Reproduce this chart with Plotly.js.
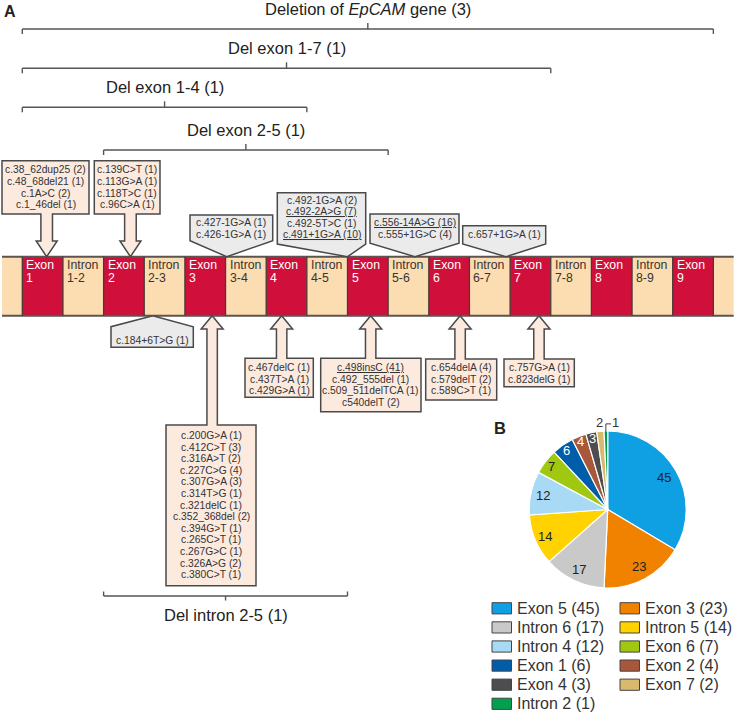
<!DOCTYPE html>
<html><head><meta charset="utf-8">
<script src="https://cdn.plot.ly/plotly-3.0.1.min.js"></script>
<style>html,body{margin:0;padding:0;background:#fff}#chart{width:735px;height:716px}</style>
</head><body><div id="chart"></div>
<script>
// ================= DATA =================
const segmentNames = ['Exon 1','Intron 1-2','Exon 2','Intron 2-3','Exon 3','Intron 3-4','Exon 4','Intron 4-5','Exon 5','Intron 5-6','Exon 6','Intron 6-7','Exon 7','Intron 7-8','Exon 8','Intron 8-9','Exon 9'];
const segmentTypes = ['exon','intron','exon','intron','exon','intron','exon','intron','exon','intron','exon','intron','exon','intron','exon','intron','exon'];

const deletionLabels = ['Deletion of <i>EpCAM</i> gene (3)','Del exon 1-7 (1)','Del exon 1-4 (1)','Del exon 2-5 (1)','Del intron 2-5 (1)'];
const deletionStart = [0, 0, 0, 2, 2];   // segment boundary index
const deletionEnd   = [17, 13, 7, 9, 8];

const exon1Variants = ['c.38_62dup25','c.48_68del21','c.1A>C','c.1_46del'];
const exon1Counts   = [2, 1, 2, 1];
const exon2Variants = ['c.139C>T','c.113G>A','c.118T>C','c.96C>A'];
const exon2Counts   = [1, 1, 1, 1];
const intron3Variants = ['c.427-1G>A','c.426-1G>A'];
const intron3Counts   = [1, 1];
const intron4Variants = ['c.492-1G>A','c.492-2A>G','c.492-5T>C','c.491+1G>A'];
const intron4Counts   = [2, 7, 1, 10];
const intron4Recurrent = [false, true, false, true];
const intron5Variants = ['c.556-14A>G','c.555+1G>C'];
const intron5Counts   = [16, 4];
const intron5Recurrent = [true, false];
const intron6Variants = ['c.657+1G>A'];
const intron6Counts   = [1];
const intron2Variants = ['c.184+6T>G'];
const intron2Counts   = [1];
const exon3Variants = ['c.200G>A','c.412C>T','c.316A>T','c.227C>G','c.307G>A','c.314T>G','c.321delC','c.352_368del','c.394G>T','c.265C>T','c.267G>C','c.326A>G','c.380C>T'];
const exon3Counts   = [1, 3, 2, 4, 3, 1, 1, 2, 1, 1, 1, 2, 1];
const exon4Variants = ['c.467delC','c.437T>A','c.429G>A'];
const exon4Counts   = [1, 1, 1];
const exon5Variants = ['c.498insC','c.492_555del','c.509_511delTCA','c540delT'];
const exon5Counts   = [41, 1, 1, 2];
const exon5Recurrent = [true, false, false, false];
const exon6Variants = ['c.654delA','c.579delT','c.589C>T'];
const exon6Counts   = [4, 2, 1];
const exon7Variants = ['c.757G>A','c.823delG'];
const exon7Counts   = [1, 1];

// target positions on the gene (segment units)
const calloutTargets = [0.60, 2.66, 5.03, 8.0, 9.66, 11.9, 3.21, 4.67, 6.38, 8.57, 10.77, 12.71];

const pieLabels = ['Exon 5','Exon 3','Intron 6','Intron 5','Intron 4','Exon 6','Exon 1','Exon 2','Exon 4','Exon 7','Intron 2'];
const pieValues = [45, 23, 17, 14, 12, 7, 6, 4, 3, 2, 1];

// ================= STYLE / LAYOUT =================
const pieColors = ['#0ea0e2','#f08200','#c9c9c9','#ffd200','#a8daf5','#a0c810','#005daa','#a9573a','#4d4d4f','#d9b96e','#00a04e'];
const pieTextColors = ['#222','#222','#222','#222','#222','#222','#fff','#fff','#fff','#333','#333'];
const pieLabelRadius = [0.83, 0.83, 0.84, 0.87, 0.84, 0.9, 0.91, 0.93, 0.92, 1.11, 1.11];
const pieLabelShift = [0, 0, 0, 0, 0, 0, 0, 0, 0, 0, 9.5];
const FONT = 'Liberation Sans, Arial, Helvetica, sans-serif';
const X0 = 22.3, SEG = 40.65;           // px of boundary 0, px per segment
const px2u = p => (p - X0) / SEG;
const u2px = u => X0 + u * SEG;
const BAR_TOP = 256.7, BAR_BOT = 315.7;
const EXON_COLOR = '#d0103a', INTRON_COLOR = '#fcddb2';
const BOX_FILL = '#fdeadf', GRAY_FILL = '#ebebeb', EDGE = '#4a4a4a';
const LINE_H = 11.6, BOX_FONT = 10.3;

const groups = [
  {v: exon1Variants,   c: exon1Counts,   kind:'arrowDown',  box:[2, 160.7, 89, 214],     ty:187.3},
  {v: exon2Variants,   c: exon2Counts,   kind:'arrowDown',  box:[94.3, 160.7, 160, 214], ty:187.3},
  {v: intron3Variants, c: intron3Counts, kind:'calloutDown',box:[190, 215, 272.7, 240.7], ty:228.5},
  {v: intron4Variants, c: intron4Counts, u: intron4Recurrent, kind:'calloutDown',box:[277.3, 192.7, 365.7, 244], ty:217.4},
  {v: intron5Variants, c: intron5Counts, u: intron5Recurrent, kind:'calloutDown',box:[370, 214, 459, 243.3], ty:228.5},
  {v: intron6Variants, c: intron6Counts, kind:'calloutDown',box:[462.7, 225.7, 545.7, 244], ty:234.3},
  {v: intron2Variants, c: intron2Counts, kind:'calloutUp',  box:[111, 326.7, 193.3, 347.3], ty:340.5},
  {v: exon3Variants,   c: exon3Counts,   kind:'arrowUp',    box:[166, 425, 256, 585.7],   ty:505},
  {v: exon4Variants,   c: exon4Counts,   kind:'arrowUp',    box:[245, 358.3, 313.3, 397.3], ty:379},
  {v: exon5Variants,   c: exon5Counts,   u: exon5Recurrent, kind:'arrowUp', box:[320.7, 358.3, 421, 411.7], ty:384.8},
  {v: exon6Variants,   c: exon6Counts,   kind:'arrowUp',    box:[425.7, 359, 496.7, 400], ty:379},
  {v: exon7Variants,   c: exon7Counts,   kind:'arrowUp',    box:[504, 359, 574.3, 386.7], ty:373.2}
];
const deletionLineY = [29, 68.3, 107.3, 150, 596];
const deletionBelow = [false, false, false, false, true];

const shapes = [];
const annotations = [];
const esc = s => s.replace(/>/g, '&gt;');
const pathOf = pts => 'M ' + pts.map(p => px2u(p[0]) + ',' + p[1]).join(' L ') + ' Z';

// gene bar outlines
shapes.push({type:'line', xref:'x', yref:'y', x0:-0.5, x1:17.5, y0:BAR_TOP, y1:BAR_TOP, line:{color:'#5b5450', width:2}});
shapes.push({type:'line', xref:'x', yref:'y', x0:-0.5, x1:17.5, y0:BAR_BOT, y1:BAR_BOT, line:{color:'#5b5450', width:2}});
for (let i = 0; i <= segmentNames.length; i++) {
  shapes.push({type:'line', xref:'x', yref:'y', x0:i, x1:i, y0:BAR_TOP, y1:BAR_BOT, line:{color:'#4a3a35', width:1.3}});
}
segmentNames.forEach((n, i) => {
  const parts = n.split(' ');
  const col = segmentTypes[i] === 'exon' ? '#fff' : '#3a3330';
  parts.forEach((p, k) => annotations.push({x: i + 2 / SEG, y: 265 + k * 13.3, xref:'x', yref:'y', text: p, showarrow:false,
    xanchor:'left', yanchor:'middle', font:{family:FONT, size:12.3, color:col}}));
});

// deletion brackets
deletionLabels.forEach((lab, i) => {
  const a = deletionStart[i], b = deletionEnd[i], y = deletionLineY[i], m = (a + b) / 2;
  const below = deletionBelow[i];
  const endTick = below ? -4.5 : 5, midTick = below ? 4.5 : -6;
  const ln = {color:'#555', width:1.4};
  shapes.push({type:'line', xref:'x', yref:'y', x0:a, x1:b, y0:y, y1:y, line:ln});
  shapes.push({type:'line', xref:'x', yref:'y', x0:a, x1:a, y0:y, y1:y + endTick, line:ln});
  shapes.push({type:'line', xref:'x', yref:'y', x0:b, x1:b, y0:y, y1:y + endTick, line:ln});
  shapes.push({type:'line', xref:'x', yref:'y', x0:m, x1:m, y0:y, y1:y + midTick, line:ln});
  annotations.push({x:m, y: below ? y + 19 : y - 20.5, xref:'x', yref:'y', text: lab, showarrow:false,
    xanchor:'center', yanchor:'middle', font:{family:FONT, size:16.5, color:'#222'}});
});

// callouts
groups.forEach((g, gi) => {
  const [x0, y0, x1, y1] = g.box;
  const tx = u2px(calloutTargets[gi]);
  let pts, fill = BOX_FILL;
  if (g.kind === 'arrowDown') {
    const sw = 5.8, hw = 10.5, headTop = 241;
    pts = [[x0,y0],[x1,y0],[x1,y1],[tx+sw,y1],[tx+sw,headTop],[tx+hw,headTop],[tx,BAR_TOP],[tx-hw,headTop],[tx-sw,headTop],[tx-sw,y1],[x0,y1]];
  } else if (g.kind === 'arrowUp') {
    const sw = 5.2, hw = 11, headBot = 329;
    pts = [[x0,y0],[tx-sw,y0],[tx-sw,headBot],[tx-hw,headBot],[tx,BAR_BOT],[tx+hw,headBot],[tx+sw,headBot],[tx+sw,y0],[x1,y0],[x1,y1],[x0,y1]];
  } else if (g.kind === 'calloutDown') {
    fill = GRAY_FILL;
    pts = [[x0,y0],[x1,y0],[x1,y1],[tx,BAR_TOP],[x0,y1]];
  } else {
    fill = GRAY_FILL;
    pts = [[x0,y1],[x0,y0],[tx,BAR_BOT],[x1,y0],[x1,y1]];
  }
  shapes.push({type:'path', xref:'x', yref:'y', path: pathOf(pts), fillcolor: fill, line:{color:EDGE, width:1.5}, layer:'above'});
  const n = g.v.length, cx = (x0 + x1) / 2;
  g.v.forEach((v, k) => {
    let t = esc(v) + ' (' + g.c[k] + ')';
    if (g.u && g.u[k]) t = '<u>' + t + '</u>';
    annotations.push({x: px2u(cx), y: g.ty + (k - (n - 1) / 2) * LINE_H, xref:'x', yref:'y', text:t, showarrow:false,
      xanchor:'center', yanchor:'middle', font:{family:FONT, size:BOX_FONT, color:'#333'}});
  });
});

// panel letters
annotations.push({x:px2u(10), y:11, xref:'x', yref:'y', text:'<b>A</b>', showarrow:false, font:{family:FONT, size:16, color:'#222'}});
annotations.push({x:px2u(500), y:427.5, xref:'x', yref:'y', text:'<b>B</b>', showarrow:false, font:{family:FONT, size:16.5, color:'#222'}});

// pie geometry
const PIE_CX = 607.7, PIE_CY = 509.5, PIE_R = 78.5;
const pieTotal = pieValues.reduce((a, b) => a + b, 0);
let cum = 0;
pieValues.forEach((v, i) => {
  const th = 2 * Math.PI * (cum + v / 2) / pieTotal;
  cum += v;
  const r = PIE_R * pieLabelRadius[i];
  const lx = PIE_CX + r * Math.sin(th) + pieLabelShift[i];
  const ly = PIE_CY - r * Math.cos(th);
  annotations.push({x:px2u(lx), y:ly, xref:'x', yref:'y', text:String(v), showarrow:false,
    xanchor:'center', yanchor:'middle', font:{family:FONT, size:13, color:pieTextColors[i]}});
  if (pieLabelShift[i] !== 0) {
    const ex = PIE_CX + PIE_R * Math.sin(th), ey = PIE_CY - PIE_R * Math.cos(th);
    shapes.push({type:'path', xref:'x', yref:'y',
      path:'M ' + px2u(ex) + ',' + (ey + 1) + ' L ' + px2u(ex) + ',' + (ly + 1.5) + ' L ' + px2u(lx - 4) + ',' + (ly + 1.5),
      line:{color:'#444', width:1}});
  }
});

// manual legend (2 columns)
pieLabels.forEach((lab, i) => {
  const col = i % 2, row = Math.floor(i / 2);
  const sx0 = col === 0 ? 492 : 620, sx1 = sx0 + 19.5;
  const yc = 608.3 + row * 19.1;
  shapes.push({type:'rect', xref:'x', yref:'y', x0:px2u(sx0), x1:px2u(sx1), y0:yc - 5.6, y1:yc + 5.6,
    fillcolor:pieColors[i], line:{color:'#444', width:1}});
  annotations.push({x:px2u(sx1 + 3.5), y:yc, xref:'x', yref:'y', text: lab + ' (' + pieValues[i] + ')', showarrow:false,
    xanchor:'left', yanchor:'middle', font:{family:FONT, size:16, color:'#333'}});
});

// ================= TRACES =================
const barBase = [-0.5].concat(segmentNames.map((_, i) => i)).concat([segmentNames.length]);
const barLen  = [0.5].concat(segmentNames.map(() => 1)).concat([0.5]);
const barCol  = [INTRON_COLOR].concat(segmentTypes.map(t => t === 'exon' ? EXON_COLOR : INTRON_COLOR)).concat([INTRON_COLOR]);
const geneTrace = {
  type:'bar', orientation:'h', base: barBase, x: barLen, y: barBase.map(() => (BAR_TOP + BAR_BOT) / 2),
  width: BAR_BOT - BAR_TOP, marker:{color: barCol, line:{width:0}}, hoverinfo:'skip', showlegend:false
};
const pieTrace = {
  type:'pie', labels: pieLabels, values: pieValues, sort:false, direction:'clockwise', rotation:0,
  textinfo:'none',
  marker:{colors: pieColors, line:{color:'#ffffff', width:1.2}},
  domain:{x:[(PIE_CX - PIE_R) / 735, (PIE_CX + PIE_R) / 735], y:[1 - (PIE_CY + PIE_R) / 716, 1 - (PIE_CY - PIE_R) / 716]},
  showlegend:false, hoverinfo:'skip'
};

const layout = {
  width:735, height:716, margin:{l:0, r:0, t:0, b:0}, paper_bgcolor:'#fff', plot_bgcolor:'rgba(0,0,0,0)',
  showlegend:false,
  xaxis:{range:[px2u(0), px2u(735)], visible:false, fixedrange:true},
  yaxis:{range:[716, 0], visible:false, fixedrange:true},
  shapes, annotations, font:{family:FONT}
};
Plotly.newPlot('chart', [geneTrace, pieTrace], layout, {staticPlot:true, displayModeBar:false});
</script></body></html>
